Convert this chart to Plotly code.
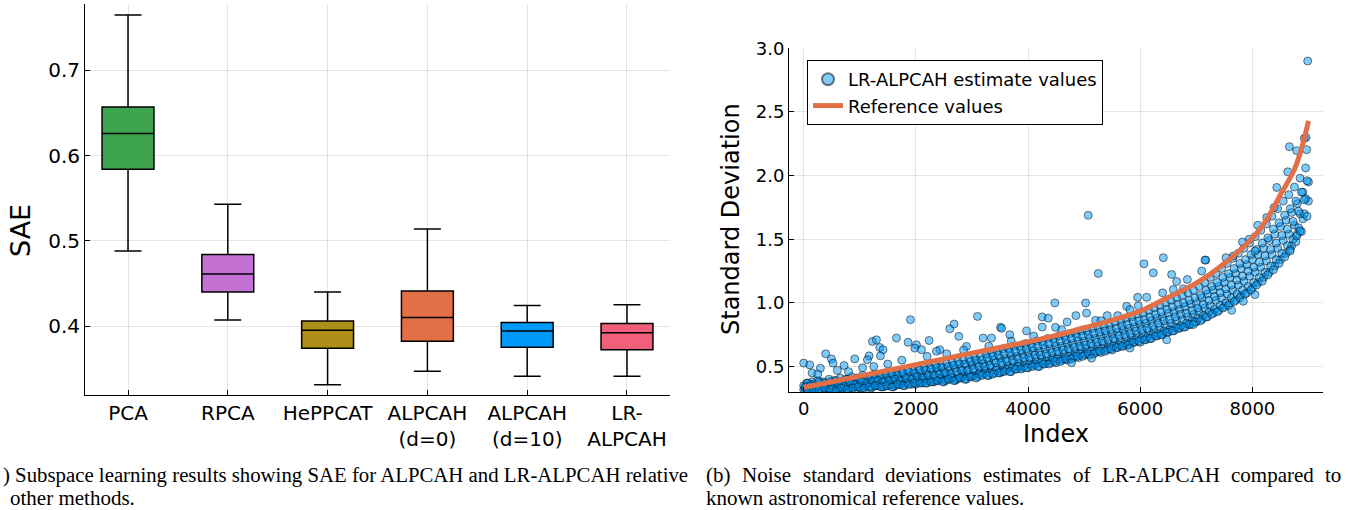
import plotly.graph_objects as go

W, H = 1367, 510

# ---------------- Left panel: SAE box plots ----------------
methods = ["PCA", "RPCA", "HePPCAT", "ALPCAH<br>(d=0)", "ALPCAH<br>(d=10)", "LR-<br>ALPCAH"]
sae_lower = [0.488, 0.407, 0.331, 0.347, 0.341, 0.341]
sae_q1 = [0.584, 0.440, 0.374, 0.382, 0.375, 0.372]
sae_median = [0.626, 0.461, 0.395, 0.410, 0.394, 0.392]
sae_q3 = [0.657, 0.484, 0.406, 0.441, 0.404, 0.403]
sae_upper = [0.765, 0.543, 0.440, 0.514, 0.424, 0.425]
box_colors = ["#3EA44E", "#C371D2", "#AC8E18", "#E36F47", "#009AFA", "#F0607A"]
sae_ticks = [0.4, 0.5, 0.6, 0.7]

# ---------------- Right panel: noise std estimates ----------------
band_idx_a = list(range(0, 9001, 100))
band_idx_b = list(range(50, 9000, 100))
band_idx_c = list(range(25, 9000, 100))
band_idx_d = list(range(75, 9000, 100))
band_row1 = [0.32, 0.31, 0.33, 0.32, 0.31, 0.33, 0.32, 0.33, 0.32, 0.34,
             0.33, 0.34, 0.33, 0.35, 0.34, 0.35, 0.34, 0.36, 0.35, 0.37,
             0.36, 0.38, 0.37, 0.38, 0.39, 0.38, 0.40, 0.39, 0.41, 0.40,
             0.42, 0.42, 0.44, 0.43, 0.45, 0.45, 0.47, 0.46, 0.48, 0.49,
             0.49, 0.51, 0.50, 0.52, 0.53, 0.53, 0.55, 0.55, 0.57, 0.57,
             0.59, 0.59, 0.61, 0.61, 0.63, 0.63, 0.65, 0.66, 0.67, 0.69,
             0.69, 0.71, 0.72, 0.74, 0.75, 0.77, 0.78, 0.80, 0.81, 0.83,
             0.85, 0.87, 0.89, 0.92, 0.94, 0.97, 1.00, 1.02, 1.06, 1.08,
             1.12, 1.16, 1.20, 1.24, 1.29, 1.34, 1.39, 1.45, 1.54, 1.66,
             1.80]
band_row2 = [0.34, 0.33, 0.35, 0.34, 0.33, 0.35, 0.34, 0.36, 0.35, 0.36,
             0.35, 0.37, 0.36, 0.37, 0.38, 0.36, 0.38, 0.39, 0.38, 0.40,
             0.39, 0.41, 0.40, 0.42, 0.41, 0.43, 0.42, 0.44, 0.45, 0.44,
             0.47, 0.46, 0.48, 0.49, 0.49, 0.51, 0.50, 0.53, 0.52, 0.54,
             0.55, 0.56, 0.56, 0.58, 0.57, 0.60, 0.60, 0.62, 0.61, 0.64,
             0.64, 0.66, 0.66, 0.68, 0.68, 0.70, 0.70, 0.73, 0.73, 0.75,
             0.76, 0.78, 0.79, 0.81, 0.82, 0.84, 0.86, 0.87, 0.89, 0.91,
             0.93, 0.96, 0.98, 1.02, 1.04, 1.07, 1.10, 1.14, 1.17, 1.21,
             1.24, 1.28, 1.33, 1.38, 1.43, 1.49, 1.54, 1.61, 1.70, 1.82]
band_row3 = [0.35, 0.36, 0.35, 0.37, 0.36, 0.37, 0.38, 0.37, 0.39, 0.38,
             0.39, 0.40, 0.39, 0.41, 0.40, 0.41, 0.42, 0.41, 0.43, 0.43,
             0.44, 0.45, 0.44, 0.46, 0.47, 0.46, 0.48, 0.49, 0.48, 0.51,
             0.51, 0.53, 0.52, 0.55, 0.55, 0.57, 0.56, 0.59, 0.58, 0.60,
             0.61, 0.62, 0.62, 0.64, 0.64, 0.66, 0.66, 0.68, 0.68, 0.70,
             0.70, 0.72, 0.72, 0.74, 0.75, 0.76, 0.77, 0.79, 0.80, 0.81,
             0.83, 0.84, 0.86, 0.88, 0.89, 0.92, 0.93, 0.95, 0.97, 0.99,
             1.00, 1.04, 1.07, 1.10, 1.13, 1.16, 1.20, 1.23, 1.27, 1.30,
             1.34, 1.38, 1.43, 1.49, 1.54, 1.60, 1.65, 1.71, 1.78, 1.87,
             1.95]
band_row4 = [0.37, 0.38, 0.39, 0.38, 0.40, 0.39, 0.41, 0.40, 0.42, 0.41,
             0.43, 0.42, 0.44, 0.43, 0.45, 0.44, 0.46, 0.45, 0.47, 0.47,
             0.48, 0.49, 0.49, 0.51, 0.50, 0.52, 0.53, 0.54, 0.55, 0.56,
             0.57, 0.58, 0.60, 0.61, 0.62, 0.64, 0.64, 0.66, 0.66, 0.68,
             0.68, 0.70, 0.70, 0.72, 0.72, 0.74, 0.74, 0.76, 0.76, 0.78,
             0.78, 0.80, 0.81, 0.82, 0.83, 0.85, 0.86, 0.88, 0.89, 0.91,
             0.92, 0.94, 0.96, 0.98, 1.00, 1.02, 1.04, 1.06, 1.08, 1.10,
             1.13, 1.16, 1.20, 1.23, 1.27, 1.31, 1.35, 1.39, 1.43, 1.47,
             1.52, 1.57, 1.62, 1.68, 1.74, 1.80, 1.85, 1.91, 1.98, 2.06]
band_row5 = [0.32, 0.33, 0.32, 0.31, 0.33, 0.32, 0.33, 0.34, 0.33, 0.34,
             0.33, 0.35, 0.34, 0.35, 0.34, 0.36, 0.35, 0.36, 0.37, 0.36,
             0.38, 0.37, 0.39, 0.38, 0.40, 0.39, 0.41, 0.40, 0.42, 0.42,
             0.43, 0.44, 0.45, 0.45, 0.47, 0.46, 0.48, 0.49, 0.50, 0.50,
             0.52, 0.52, 0.53, 0.54, 0.55, 0.56, 0.56, 0.58, 0.58, 0.60,
             0.60, 0.62, 0.62, 0.64, 0.64, 0.66, 0.67, 0.68, 0.69, 0.71,
             0.72, 0.73, 0.75, 0.76, 0.78, 0.79, 0.81, 0.82, 0.84, 0.86,
             0.88, 0.90, 0.93, 0.95, 0.98, 1.00, 1.04, 1.07, 1.10, 1.13,
             1.16, 1.20, 1.24, 1.29, 1.34, 1.39, 1.45, 1.50, 1.59, 1.70]
band_row6 = [0.37, 0.36, 0.38, 0.37, 0.38, 0.39, 0.38, 0.40, 0.39, 0.41,
             0.40, 0.42, 0.41, 0.43, 0.43, 0.44, 0.43, 0.45, 0.46, 0.45,
             0.47, 0.47, 0.48, 0.49, 0.49, 0.50, 0.51, 0.52, 0.52, 0.54,
             0.55, 0.55, 0.57, 0.58, 0.59, 0.60, 0.61, 0.62, 0.63, 0.64,
             0.65, 0.66, 0.67, 0.68, 0.69, 0.70, 0.71, 0.72, 0.73, 0.74,
             0.75, 0.76, 0.77, 0.78, 0.79, 0.80, 0.82, 0.83, 0.85, 0.86,
             0.87, 0.89, 0.91, 0.93, 0.95, 0.97, 0.99, 1.00, 1.02, 1.04,
             1.06, 1.10, 1.13, 1.16, 1.20, 1.23, 1.27, 1.31, 1.34, 1.38,
             1.42, 1.47, 1.51, 1.58, 1.63, 1.69, 1.74, 1.80, 1.87, 1.96]
band_row7 = [0.34, 0.35, 0.34, 0.35, 0.36, 0.35, 0.36, 0.35, 0.37, 0.36,
             0.38, 0.37, 0.38, 0.39, 0.38, 0.39, 0.40, 0.39, 0.41, 0.40,
             0.42, 0.41, 0.43, 0.43, 0.44, 0.45, 0.44, 0.46, 0.47, 0.47,
             0.48, 0.50, 0.50, 0.51, 0.53, 0.53, 0.54, 0.55, 0.56, 0.57,
             0.57, 0.59, 0.59, 0.60, 0.61, 0.62, 0.63, 0.64, 0.65, 0.66,
             0.67, 0.68, 0.69, 0.70, 0.71, 0.72, 0.74, 0.75, 0.76, 0.78,
             0.79, 0.80, 0.82, 0.84, 0.86, 0.87, 0.89, 0.91, 0.92, 0.94,
             0.96, 0.99, 1.02, 1.05, 1.08, 1.11, 1.14, 1.18, 1.21, 1.25,
             1.28, 1.32, 1.37, 1.42, 1.47, 1.53, 1.58, 1.64, 1.72, 1.81]
band_row8 = [0.32, 0.31, 0.32, 0.33, 0.32, 0.31, 0.33, 0.32, 0.33, 0.34,
             0.33, 0.34, 0.35, 0.34, 0.35, 0.34, 0.36, 0.35, 0.36, 0.37,
             0.37, 0.37, 0.38, 0.39, 0.38, 0.40, 0.39, 0.41, 0.40, 0.42,
             0.41, 0.43, 0.43, 0.44, 0.45, 0.46, 0.46, 0.48, 0.48, 0.49,
             0.50, 0.50, 0.52, 0.52, 0.54, 0.54, 0.56, 0.56, 0.58, 0.58,
             0.60, 0.60, 0.62, 0.62, 0.64, 0.65, 0.66, 0.67, 0.69, 0.70,
             0.71, 0.72, 0.74, 0.75, 0.77, 0.78, 0.80, 0.81, 0.83, 0.85,
             0.86, 0.89, 0.91, 0.93, 0.96, 0.98, 1.01, 1.04, 1.07, 1.10,
             1.14, 1.17, 1.22, 1.26, 1.31, 1.36, 1.42, 1.48, 1.56, 1.68]

outlier_idx = [0, 107, 392, 494, 523, 297, 720, 910, 1166, 1136, 1225, 1297, 1356, 1415,
               1368, 1654, 1861, 1903, 2010, 1980, 2100, 2236, 2605, 2682, 2766, 3099,
               3199, 3348, 3509, 3530, 3675, 3973, 2427, 2902, 2367,
               5073, 5252, 4478, 4253, 4360, 4253, 4490, 4697, 4853, 5026, 5043, 5204,
               5412, 5758, 5954, 6115, 6067, 6233, 6412, 6400, 6560, 6650, 6840, 7096,
               7168, 6589, 6768, 5965, 5817,
               8659, 8790, 8968, 8926, 8434, 8630, 8095, 8256, 8386, 7825, 7944, 7529,
               7660, 7154, 8046, 8790, 8046, 7838, 7630, 8671, 8850, 8986, 8956,
               4776, 5132, 5817, 6472, 6947,
               150, 250, 600, 800, 1050, 1250, 1500, 1750, 2200, 2550, 2850, 3300,
               3700, 4100, 4600, 5300, 5600]
outlier_val = [0.527, 0.513, 0.600, 0.560, 0.527, 0.487, 0.508, 0.560, 0.584, 0.553, 0.697,
               0.710, 0.650, 0.632, 0.584, 0.724, 0.690, 0.868, 0.671, 0.645, 0.632, 0.705,
               0.797, 0.834, 0.737, 0.894, 0.724, 0.724, 0.808, 0.800, 0.750, 0.780, 0.632,
               0.658, 0.620,
               1.688, 1.231, 1.000, 0.890, 0.880, 0.810, 0.808, 0.850, 0.900, 1.000, 0.920,
               0.863, 0.900, 0.973, 1.044, 1.044, 1.307, 1.236, 1.355, 1.079, 1.223, 1.168,
               1.184, 1.250, 1.336, 1.105, 1.110, 0.978, 0.947,
               2.227, 2.196, 2.204, 2.293, 1.907, 2.030, 1.610, 1.670, 1.749, 1.478, 1.500,
               1.355, 1.368, 1.336, 1.407, 1.525, 1.065, 1.013, 0.942, 1.407, 1.565, 2.900,
               2.300,
               0.530, 0.566, 0.645, 0.710, 0.830,
               0.450, 0.440, 0.470, 0.460, 0.490, 0.500, 0.520, 0.550, 0.580, 0.600, 0.630,
               0.660, 0.700, 0.740, 0.790, 0.860, 0.900]

ref_idx = [0, 500, 1000, 1500, 2000, 2500, 3000, 3500, 4000, 4500, 5000, 5500, 6000,
           6500, 7000, 7500, 8000, 8250, 8500, 8750, 8900, 9000]
ref_val = [0.335, 0.380, 0.425, 0.470, 0.515, 0.560, 0.605, 0.650, 0.695, 0.745, 0.805,
           0.865, 0.935, 1.045, 1.155, 1.310, 1.510, 1.650, 1.850, 2.050, 2.250, 2.430]

x_ticks = [0, 2000, 4000, 6000, 8000]
std_ticks = [0.5, 1.0, 1.5, 2.0, 2.5, 3.0]

caption_b1_words = ["(b)", "Noise", "standard", "deviations", "estimates", "of",
                    "LR-ALPCAH", "compared", "to"]

GRID = "rgba(0,0,0,0.1)"
FONT = "DejaVu Sans"
SERIF = "Liberation Serif"

fig = go.Figure()

for i, m in enumerate(methods):
    fig.add_trace(go.Box(
        x=[m], q1=[sae_q1[i]], median=[sae_median[i]], q3=[sae_q3[i]],
        lowerfence=[sae_lower[i]], upperfence=[sae_upper[i]],
        fillcolor=box_colors[i], line=dict(color="black", width=1.5),
        width=0.52, whiskerwidth=0.52, boxpoints=False, showlegend=False,
        xaxis="x", yaxis="y", hoverinfo="skip"))

sc_x = (band_idx_a + band_idx_b + band_idx_a + band_idx_b + band_idx_c + band_idx_d
        + band_idx_c + band_idx_d + outlier_idx)
sc_y = (band_row1 + band_row2 + band_row3 + band_row4 + band_row5 + band_row6
        + band_row7 + band_row8 + outlier_val)
fig.add_trace(go.Scatter(
    x=sc_x, y=sc_y, mode="markers", name="LR-ALPCAH estimate values",
    marker=dict(size=8, color="rgba(0,154,250,0.5)",
                line=dict(color="rgba(0,0,0,0.5)", width=1)),
    xaxis="x2", yaxis="y2"))
fig.add_trace(go.Scatter(
    x=ref_idx, y=ref_val, mode="lines", name="Reference values",
    line=dict(color="#E36F47", width=5, shape="spline"),
    xaxis="x2", yaxis="y2"))

axis_common = dict(showgrid=True, gridcolor=GRID, gridwidth=1, showline=True,
                   linecolor="black", linewidth=1, ticks="inside", ticklen=5,
                   tickcolor="black", zeroline=False, mirror=False, automargin=False)

fig.update_layout(
    template="none",
    width=W, height=H, margin=dict(l=0, r=0, t=0, b=0, pad=0), autosize=False,
    paper_bgcolor="white", plot_bgcolor="white",
    font=dict(family=FONT, color="black"),
    xaxis=dict(domain=[85 / W, 670 / W], type="category", range=[-0.431, 5.431],
               anchor="y", tickfont=dict(size=20), **axis_common),
    yaxis=dict(domain=[1 - 395 / H, 1 - 4 / H], range=[0.319, 0.778], anchor="x",
               tickvals=sae_ticks, ticktext=[f"{v:.1f}" for v in sae_ticks],
               tickfont=dict(size=20), **axis_common),
    xaxis2=dict(domain=[789 / W, 1323 / W], range=[-262, 9259], anchor="y2",
                tickvals=x_ticks, ticktext=[str(v) for v in x_ticks],
                tickfont=dict(size=18), **axis_common),
    yaxis2=dict(domain=[1 - 392 / H, 1 - 48.3 / H], range=[0.30, 3.0], anchor="x2",
                tickvals=std_ticks, ticktext=[f"{v:.1f}" for v in std_ticks],
                tickfont=dict(size=18), **axis_common),
    showlegend=True,
    legend=dict(x=807 / W, y=1 - 60 / H, xanchor="left", yanchor="top",
                bgcolor="white", bordercolor="black", borderwidth=1,
                font=dict(family=FONT, size=18), tracegroupgap=0,
                itemsizing="constant"),
)

annos = [
    dict(text="SAE", x=21 / W, y=1 - 231 / H, textangle=-90, font=dict(size=27)),
    dict(text="Standard Deviation", x=731 / W, y=1 - 219 / H, textangle=-90,
         font=dict(size=24)),
    dict(text="Index", x=1056 / W, y=1 - 434 / H, font=dict(size=24)),
]
for a in annos:
    fig.add_annotation(xref="paper", yref="paper", showarrow=False,
                       xanchor="center", yanchor="middle", **a)

caps = [
    dict(text=") Subspace learning results showing SAE for ALPCAH and LR-ALPCAH relative",
         x=1 / W, y=1 - 474.5 / H, xanchor="left", size=20.8),
    dict(text="other methods.", x=8 / W, y=1 - 497.5 / H, xanchor="left", size=21),
    dict(text="known astronomical reference values.", x=704 / W, y=1 - 497.5 / H,
         xanchor="left", size=21),
]
# justified first line of caption (b): word start positions in pixels
word_x = [704, 740, 800.5, 883, 981, 1070.5, 1099.5, 1229, 1323]
for w, px in zip(caption_b1_words, word_x):
    caps.append(dict(text=w, x=px / W, y=1 - 474.5 / H, xanchor="left", size=21))
for c in caps:
    sz = c.pop("size")
    fig.add_annotation(xref="paper", yref="paper", showarrow=False, yanchor="middle",
                       font=dict(family=SERIF, size=sz, color="black"), **c)

fig.write_html("out.html", config={"displayModeBar": False},
               post_script="document.body.style.margin='0';")
